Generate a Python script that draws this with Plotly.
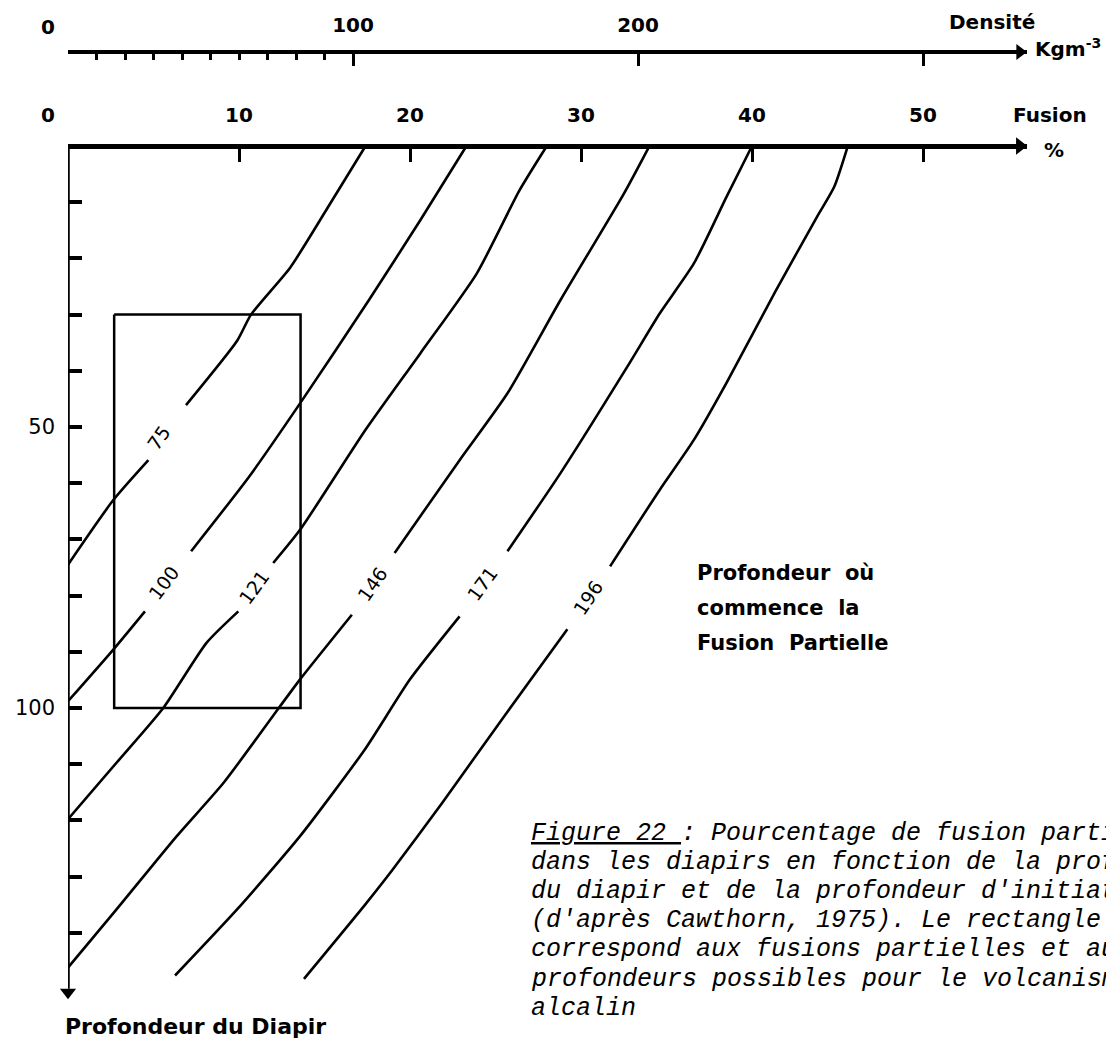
import plotly.graph_objects as go

# ---------------- data ----------------
# x = Fusion (%), y = Profondeur du diapir (km)
curve_names = ["75", "100", "121", "146", "171", "196"]

c75_fusion = [17.4, 15.2, 13.0, 10.7, 9.9, 6.9, None, 4.7, 2.65, 0.0]
c75_depth = [0.0, 10.9, 21.6, 30.0, 34.6, 46.1, None, 55.9, 63.0, 74.5]

c100_fusion = [23.3, 20.6, 17.6, 13.57, 10.6, 7.2, None, 4.5, 2.65, 0.0]
c100_depth = [0.0, 13.2, 27.4, 45.8, 58.8, 72.1, None, 82.8, 89.6, 98.8]

c121_fusion = [28.0, 26.4, 23.9, 20.6, 17.4, 13.57, 12.0, None, 9.96, 8.1, 5.57, 2.85, 0.0]
c121_depth = [0.0, 7.9, 22.7, 36.9, 50.5, 68.3, 74.2, None, 82.8, 88.4, 100.0, 109.7, 119.8]

c146_fusion = [34.0, 32.5, 28.8, 25.7, 22.9, 19.1, None, 16.6, 13.57, 12.4, 9.1, 6.36, 2.85, 0.0]
c146_depth = [0.0, 8.5, 27.4, 44.0, 55.9, 72.4, None, 83.4, 94.9, 99.7, 113.3, 122.8, 135.8, 146.2]

c171_fusion = [40.0, 38.5, 36.6, 34.6, 32.7, 28.8, 25.7, None, 22.9, 20.0, 17.4, 13.57, 9.9, 6.26]
c171_depth = [0.0, 9.1, 20.9, 29.8, 39.3, 58.2, 72.1, None, 83.7, 94.9, 107.2, 122.8, 135.8, 147.6]

c196_fusion = [45.6, 44.8, 43.8, 41.4, 38.5, 36.6, 34.6, 31.7, None, 29.2, 25.5, 21.9, 19.0, 17.4, 13.8]
c196_depth = [0.0, 7.3, 12.6, 25.7, 42.2, 52.3, 61.2, 74.8, None, 86.0, 101.5, 116.8, 128.7, 134.9, 148.2]

curves_fusion = [c75_fusion, c100_fusion, c121_fusion, c146_fusion, c171_fusion, c196_fusion]
curves_depth = [c75_depth, c100_depth, c121_depth, c146_depth, c171_depth, c196_depth]

# curve labels (placed in the gaps of the curves)
label_fusion = [5.3, 5.6, 10.9, 17.8, 24.2, 30.4]
label_depth = [52.0, 77.8, 78.5, 77.9, 77.9, 80.4]
label_angle = [55, 53, 54, 55, 54, 56]

# rectangle : fusions partielles et profondeurs possibles pour le volcanisme alcalin
box_fusion = [2.7, 13.6]
box_depth = [30.0, 100.0]

# axes
fusion_ticks = [10, 20, 30, 40, 50]
fusion_ticktext = ["10", "20", "30", "40", "50"]
density_ticks = [0, 100, 200, 300]
density_ticktext = ["", "100", "200", ""]
density_minor = [10, 20, 30, 40, 50, 60, 70, 80, 90]
density_per_fusion = 6.0          # kg m-3 per % of melt
depth_ticks = [10, 20, 30, 40, 50, 60, 70, 80, 90, 100, 110, 120, 130, 140]
depth_ticktext = ["", "", "", "", "50", "", "", "", "", "100", "", "", "", ""]

fusion_max = 56.08
depth_bottom = 151.96
depth_top = -16.73

caption_lines = [
    "<u>Figure 22 </u>: Pourcentage de fusion partielle",
    "dans les diapirs en fonction de la profondeur",
    "du diapir et de la profondeur d'initiation",
    "(d'après Cawthorn, 1975). Le rectangle",
    "correspond aux fusions partielles et aux",
    "profondeurs possibles pour le volcanisme",
    "alcalin",
]

# ---------------- figure ----------------
OFF = 8                      # page body margin
W, H = 1114 - OFF, 1039 - OFF
L, T = 68 - OFF, 52 - OFF    # plot area: screen x 68..1027, y 52..1000
R = W - (1027 - OFF)
B = H - (1000 - OFF)
PW, PH = W - L - R, H - T - B


def px(xs):                  # screen x -> paper
    return (xs - OFF - L) / PW


def py(ys):                  # screen y -> paper
    return (H - B - (ys - OFF)) / PH


fig = go.Figure()

for xs, ys in zip(curves_fusion, curves_depth):
    fig.add_trace(go.Scatter(x=xs, y=ys, mode="lines", connectgaps=False,
                             line=dict(color="black", width=2.6, shape="spline", smoothing=0.6),
                             hoverinfo="skip", showlegend=False))

fig.add_trace(go.Scatter(
    x=[box_fusion[0], box_fusion[1], box_fusion[1], box_fusion[0], box_fusion[0]],
    y=[box_depth[0], box_depth[0], box_depth[1], box_depth[1], box_depth[0]],
    mode="lines", line=dict(color="black", width=2.5),
    hoverinfo="skip", showlegend=False))

# arrow heads at the ends of the axes
head = 15
fig.add_trace(go.Scatter(x=[fusion_max - 0.42], y=[0], mode="markers", cliponaxis=False,
                         marker=dict(symbol="triangle-right", size=head, color="black"),
                         hoverinfo="skip", showlegend=False))
fig.add_trace(go.Scatter(x=[fusion_max * density_per_fusion - 2.5], y=[depth_top], xaxis="x2",
                         mode="markers", cliponaxis=False,
                         marker=dict(symbol="triangle-right", size=head - 1, color="black"),
                         hoverinfo="skip", showlegend=False))
fig.add_trace(go.Scatter(x=[0], y=[depth_bottom - 1.4], mode="markers", cliponaxis=False,
                         marker=dict(symbol="triangle-down", size=head - 1, color="black"),
                         hoverinfo="skip", showlegend=False))

# vertical axis line (starts at depth 0)
fig.add_shape(type="line", xref="x", yref="y", x0=0, x1=0, y0=0, y1=depth_bottom - 2,
              line=dict(color="black", width=3.5))

bold = dict(family="DejaVu Sans", size=20, color="black", weight="bold")

fig.update_layout(
    width=W, height=H,
    margin=dict(l=L, r=R, t=T, b=B, pad=0, autoexpand=False),
    paper_bgcolor="white", plot_bgcolor="white",
    showlegend=False,
    xaxis=dict(range=[0, fusion_max], domain=[0, 1], anchor="free", position=py(146),
               side="top", showline=True, linewidth=4.5, linecolor="black",
               showgrid=False, zeroline=False, automargin=False,
               ticks="inside", ticklen=13, tickwidth=3, tickcolor="black",
               tickvals=fusion_ticks, ticktext=fusion_ticktext,
               tickfont=bold, ticklabelstandoff=14),
    xaxis2=dict(range=[0, fusion_max * density_per_fusion], overlaying="x",
                anchor="free", position=1, side="top",
                showline=True, linewidth=4, linecolor="black",
                showgrid=False, zeroline=False, automargin=False,
                ticks="inside", ticklen=12, tickwidth=3, tickcolor="black",
                tickvals=density_ticks, ticktext=density_ticktext,
                minor=dict(tickvals=density_minor, ticks="inside", ticklen=6,
                           tickwidth=2.5, tickcolor="black"),
                tickfont=bold, ticklabelstandoff=10),
    yaxis=dict(range=[depth_bottom, depth_top], domain=[0, 1], anchor="free", position=0,
               showline=False, showgrid=False, zeroline=False, automargin=False,
               ticks="inside", ticklen=13, tickwidth=3.5, tickcolor="black",
               tickvals=depth_ticks, ticktext=depth_ticktext,
               tickfont=dict(family="DejaVu Sans", size=21, color="black"),
               ticklabelstandoff=13),
)

# curve labels
for name, fx, dy, ang in zip(curve_names, label_fusion, label_depth, label_angle):
    fig.add_annotation(x=fx, y=dy, xref="x", yref="y", text=name, showarrow=False,
                       textangle=-ang, font=dict(family="DejaVu Sans", size=19, color="black"))


def text(xs, ys, s, font, xanchor="center", yanchor="middle"):
    fig.add_annotation(x=px(xs), y=py(ys), xref="paper", yref="paper", text=s,
                       showarrow=False, xanchor=xanchor, yanchor=yanchor, font=font)


# axis titles and zero labels
text(48, 27, "0", bold)
text(48, 115, "0", bold)
text(992, 22, "Densité", bold)
text(1033, 48, "Kgm<sup>-3</sup>", bold, xanchor="left")
text(1050, 115, "Fusion", bold)
text(1054, 150, "%", bold)
text(63, 1026, "Profondeur du Diapir",
     dict(family="DejaVu Sans", size=22, color="black", weight="bold"), xanchor="left")

mid_font = dict(family="DejaVu Sans", size=21, color="black", weight="bold")
for ys, s in zip([573, 608, 643], ["Profondeur  où", "commence  la", "Fusion  Partielle"]):
    text(695, ys, s, mid_font, xanchor="left")

cap_font = dict(family="Liberation Mono", size=25, color="black", style="italic")
for i, s in enumerate(caption_lines):
    text(529, 833 + i * 29.2, s, cap_font, xanchor="left")

fig.write_html("out.html")
